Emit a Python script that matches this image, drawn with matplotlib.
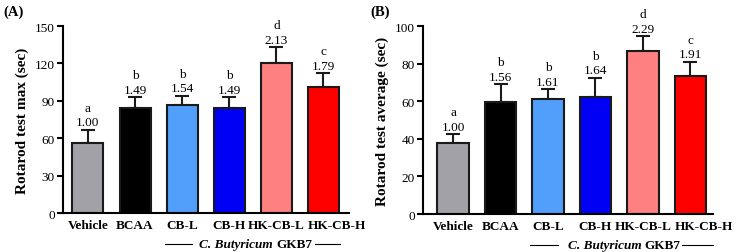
import numpy as np
import matplotlib as mpl
mpl.use('Agg')
import matplotlib.pyplot as plt
import matplotlib.transforms as mtransforms

groups = ['Vehicle', 'BCAA', 'CB-L', 'CB-H', 'HK-CB-L', 'HK-CB-H']
colors = ['#a2a1a8', '#000000', '#519ffa', '#0000f5', '#ff8080', '#fe0000']

max_mean = [56, 84, 87, 84, 120, 101]
max_err = [11, 9, 7, 9, 13, 11]
max_fold = ['1.00', '1.49', '1.54', '1.49', '2.13', '1.79']
max_letter = ['a', 'b', 'b', 'b', 'd', 'c']

avg_mean = [38, 59.5, 61, 62.5, 87, 73.5]
avg_err = [4.5, 9.5, 5.5, 10, 7.5, 7.5]
avg_fold = ['1.00', '1.56', '1.61', '1.64', '2.29', '1.91']
avg_letter = ['a', 'b', 'b', 'b', 'd', 'c']

plt.rcParams['font.family'] = ['Liberation Serif', 'DejaVu Serif']

fig = plt.figure(figsize=(7.36, 2.53), dpi=100)
axA = fig.add_axes([0.0856, 0.154, 0.389, 0.739])
axB = fig.add_axes([0.575, 0.150, 0.394, 0.743])

bw = 0.66


def panel(ax, mean, err, fold, letter, ymax, step, ylabel, xl, lines, gap):
    x = np.arange(len(groups))
    ax.bar(x, mean, width=bw, color=colors, edgecolor='#1a1a1a', linewidth=1.5, zorder=2)
    ax.errorbar(x, mean, yerr=[np.zeros(len(err)), err], fmt='none', ecolor='#1a1a1a',
                elinewidth=1.5, capsize=5, capthick=1.5, zorder=1)
    for i in range(len(groups)):
        top = mean[i] + err[i]
        ax.annotate(fold[i], (x[i], top), xytext=(0, 1), textcoords='offset points',
                    ha='center', va='bottom', fontsize=9.5)
        ax.annotate(letter[i], (x[i], top), xytext=(0, 11.5), textcoords='offset points',
                    ha='center', va='bottom', fontsize=9.5)
    ax.set_ylim(0, ymax)
    ax.set_yticks(np.arange(0, ymax + 1, step))
    ax.set_xlim(xl)
    # last label starts at the left edge of its bar, as in the original
    tpos = list(x[:-1]) + [x[-1] - bw / 2]
    ax.set_xticks(tpos)
    ax.set_xticklabels(groups, fontweight='bold', fontsize=9.5)
    ax.get_xticklabels()[-1].set_ha('left')
    ax.tick_params(axis='x', length=0, pad=4)
    ax.tick_params(axis='y', length=4, width=1.5, labelsize=9.5, pad=2)
    ax.set_ylabel(ylabel, fontweight='bold', fontsize=11, labelpad=4)
    for s in ['top', 'right']:
        ax.spines[s].set_visible(False)
    for s in ['left', 'bottom']:
        ax.spines[s].set_linewidth(1.5)
    trans = mtransforms.blended_transform_factory(ax.transData, ax.transAxes)
    yb = -0.165
    for a, b in lines:
        ax.plot([a, b], [yb, yb], color='black', lw=0.8, transform=trans, clip_on=False)
    ax.text(gap - 0.02, yb, 'C. Butyricum', transform=trans, ha='right', va='center',
            fontsize=9.5, fontweight='bold', fontstyle='italic')
    ax.text(gap + 0.05, yb, 'GKB7', transform=trans, ha='left', va='center',
            fontsize=9.5, fontweight='bold')


panel(axA, max_mean, max_err, max_fold, max_letter, 150, 30, 'Rotarod test max (sec)',
      (-0.53, 5.55), [(1.63, 2.2), (4.83, 5.36)], 3.95)
panel(axB, avg_mean, avg_err, avg_fold, avg_letter, 100, 20, 'Rotarod test average (sec)',
      (-0.63, 5.48), [(1.63, 2.2), (4.83, 5.48)], 3.99)

fig.text(0.004, 0.95, '(A)', fontweight='bold', fontsize=10.5, va='center')
fig.text(0.503, 0.95, '(B)', fontweight='bold', fontsize=10.5, va='center')

plt.savefig('out.png', dpi=100)
